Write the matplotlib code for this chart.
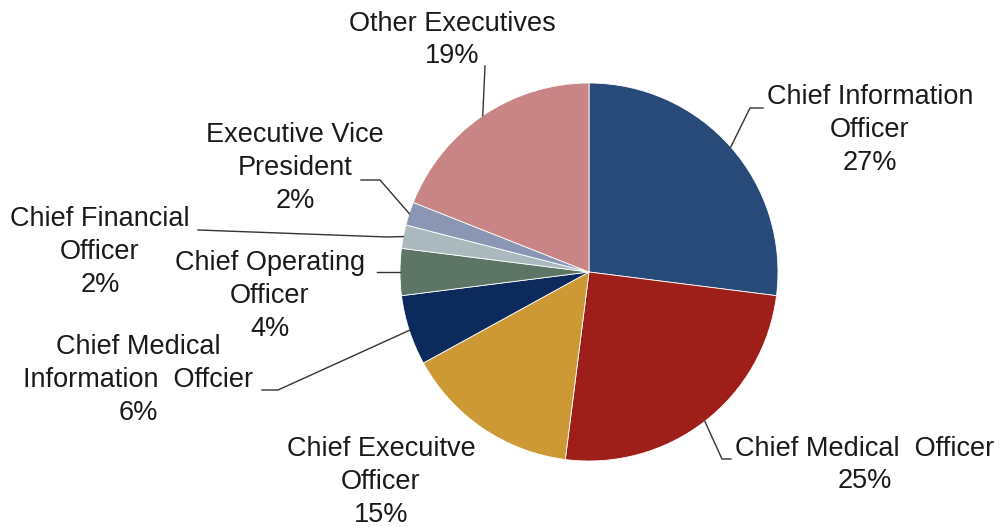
import numpy as np
import matplotlib.pyplot as plt

plt.rcParams['font.family'] = ['Liberation Sans', 'DejaVu Sans']

# data
labels = ['Chief Information\nOfficer', 'Chief Medical  Officer', 'Chief Execuitve\nOfficer',
          'Chief Medical\nInformation  Offcier', 'Chief Operating\nOfficer',
          'Chief Financial\nOfficer', 'Executive Vice\nPresident', 'Other Executives']
shares = [27, 25, 15, 6, 4, 2, 2, 19]
colors = ['#284a78', '#9e1f1a', '#cc9935', '#0c2b5c', '#5d7564',
          '#a9b9bd', '#8a96b4', '#c98585']

# layout (pixel positions in the 1001x527 image)
W, H = 1001, 527
cx, cy, R = 589, 272, 189
# text block centre, and leader path points (text end, elbow)
text_pos = [(870, 130), (865, 465), (381, 482), (138, 380),
            (270, 296), (100, 252), (295, 168), (452, 40)]
leaders = [[(763, 108), (750, 108)],
           [(731, 459), (722, 459)],
           None,
           [(262, 390), (278, 390)],
           [(377, 272)],
           [(198, 230), (387, 237)],
           [(361, 180), (380, 180)],
           [(485, 66)]]


def px(p):
    return ((p[0] - cx) / R, (cy - p[1]) / R)


fig = plt.figure(figsize=(W / 100, H / 100), dpi=100)
ax = fig.add_axes([0, 0, 1, 1])

wedges, _ = ax.pie(shares, colors=colors, startangle=90, counterclock=False,
                   radius=1, center=(0, 0), frame=True,
                   wedgeprops=dict(edgecolor='white', linewidth=0.6))
ax.set_xlim(-cx / R, (W - cx) / R)
ax.set_ylim(-(H - cy) / R, cy / R)
ax.set_aspect('auto')
ax.axis('off')

for w, lab, s, tp, ld in zip(wedges, labels, shares, text_pos, leaders):
    ang = np.deg2rad((w.theta1 + w.theta2) / 2)
    edge = (np.cos(ang), np.sin(ang))
    tx, ty = px(tp)
    ax.text(tx, ty, f'{lab}\n{s}%', ha='center', va='center', fontsize=19.5,
            linespacing=1.33, color='#1a1a1a')
    if ld:
        pts = [px(p) for p in ld] + [edge]
        xs, ys = zip(*pts)
        ax.plot(xs, ys, color='#333333', lw=1.0)

fig.savefig('out.png', dpi=100)
